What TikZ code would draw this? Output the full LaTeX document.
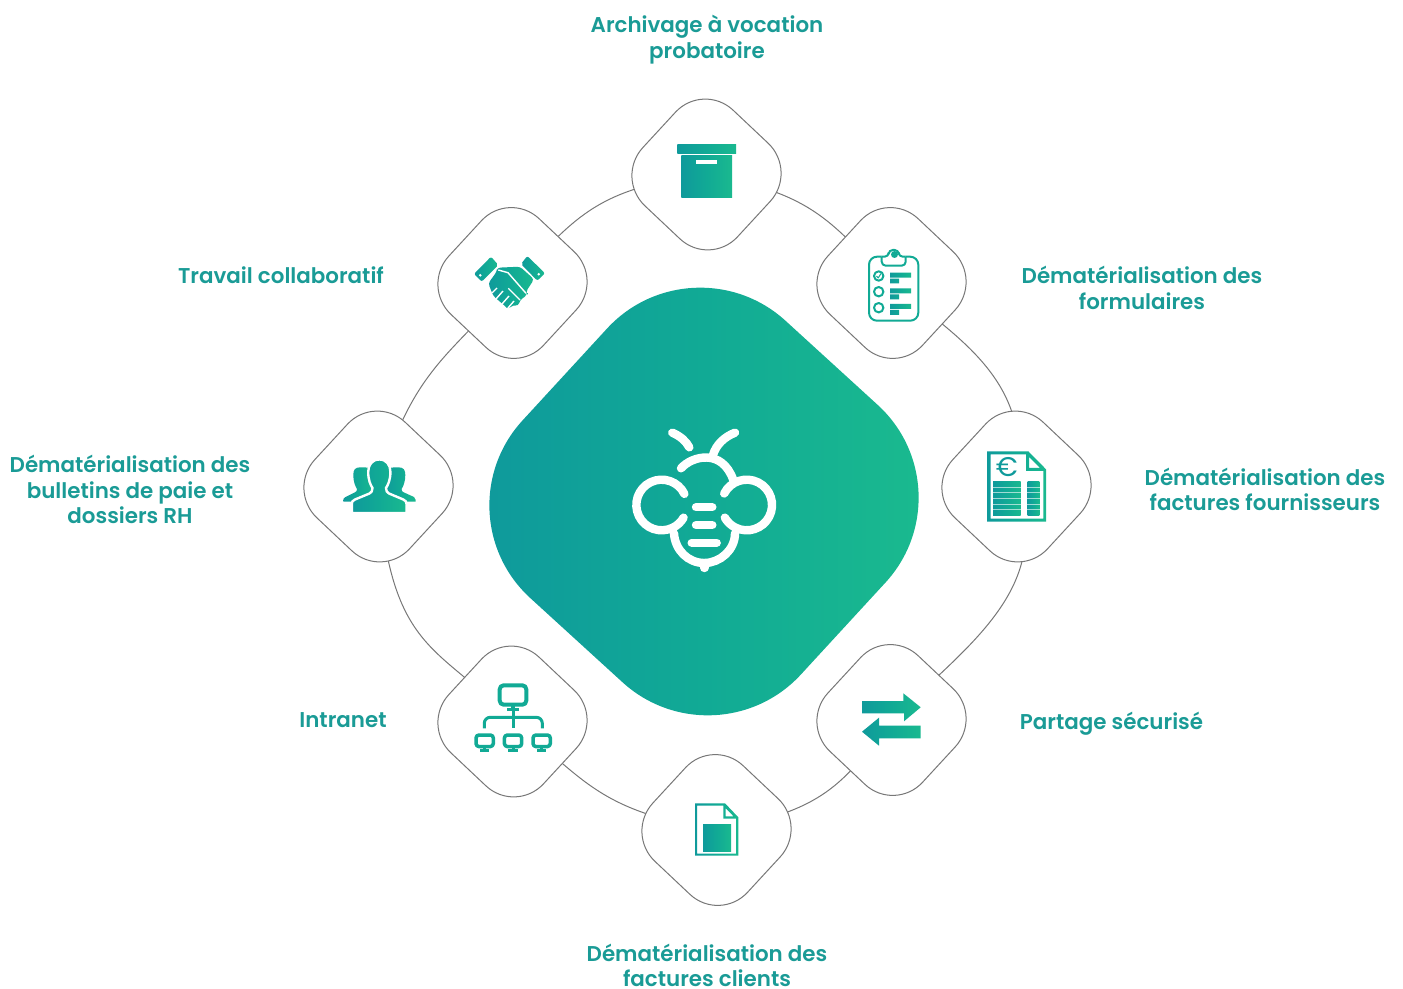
\documentclass[tikz,border=0pt]{standalone}
\usepackage{fontspec}
\newfontfamily\labelfont{Poppins SemiBold}
\newfontfamily\eurofont{Poppins}
\usetikzlibrary{backgrounds,shapes.geometric}
\definecolor{tealA}{HTML}{0F9A9B}
\definecolor{tealM}{HTML}{11AA95}
\definecolor{tealB}{HTML}{1AB98F}
\definecolor{blobA}{HTML}{0E969D}
\definecolor{blobB}{HTML}{1CBD8D}
\definecolor{textteal}{HTML}{1A9B96}
\definecolor{ringgray}{HTML}{777777}
\tikzset{
	gradfill/.style={left color=tealA, right color=tealB, middle color=tealM, draw=none},
	petal/.style={shape=diamond, draw=ringgray, line width=0.5pt, fill=white, rounded corners=20.5pt, minimum width=91.5pt, minimum height=92.5pt, inner sep=0pt, outer sep=0pt, rotate=2},
	blob/.style={shape=diamond, left color=blobA, right color=blobB, middle color=tealM, rounded corners=63pt, minimum width=267pt, minimum height=266pt, inner sep=0pt, outer sep=0pt, rotate=2.5},
	caption/.style={font=\labelfont\fontsize{10.7}{12.8}\selectfont, text=textteal, align=center, inner sep=0pt},
	ring/.style={draw=ringgray, line width=0.5pt},
	beeline/.style={draw=white, line width=4.2pt, line cap=round},
	iconline/.style={draw=tealM, line width=1pt, line join=round}
}
\begin{document}
\begin{tikzpicture}[x=0.5pt, y=-0.5pt]
	\useasboundingbox (0, 0) rectangle (1403, 989);

	% centre
	\node[blob] (centre) at (704, 501.5) {};

	% petals
	\node[petal] (archive) at (706.5, 174.5) {};
	\node[petal] (formulaires) at (891.5, 283) {};
	\node[petal] (fournisseurs) at (1016.5, 486.5) {};
	\node[petal] (partage) at (891.5, 720) {};
	\node[petal] (clients) at (716.5, 830) {};
	\node[petal] (intranet) at (512.5, 721.5) {};
	\node[petal] (paie) at (378.5, 486.5) {};
	\node[petal] (travail) at (512.5, 283) {};

	% ring behind the petals
	\begin{scope}[on background layer]
		\draw[ring] (archive.center) to[out=187, in=45, out looseness=1.35] (travail.center);
		\draw[ring] (travail.center) to[out=230, in=74, in looseness=1.3] (paie.center);
		\draw[ring] (paie.center) to[out=274, in=133, out looseness=1.6] (intranet.center);
		\draw[ring] (intranet.center) to[out=-38, in=171, in looseness=1.35] (clients.center);
		\draw[ring] (clients.center) to[out=10, in=233, out looseness=1.35] (partage.center);
		\draw[ring] (partage.center) .. controls (961.5, 650) and (1055, 590) .. (fournisseurs.center);
		\draw[ring] (fournisseurs.center) .. controls (1034, 379) and (956.5, 338) .. (formulaires.center);
		\draw[ring] (formulaires.center) to[out=136, in=-10, in looseness=1.35] (archive.center);
	\end{scope}

	% labels
	\node[caption] (lblarchive) at (707, 39.5) {Archivage à vocation\\probatoire};
	\node[caption] (lblformulaires) at (1142, 288) {Dématérialisation des\\formulaires};
	\node[caption] (lblfournisseurs) at (1265, 489.5) {Dématérialisation des\\factures fournisseurs};
	\node[caption] (lblpartage) at (1111.5, 724) {Partage sécurisé};
	\node[caption] (lblclients) at (707, 965.5) {Dématérialisation des\\factures clients};
	\node[caption] (lblintranet) at (343, 720.5) {Intranet};
	\node[caption] (lblpaie) at (130, 489.7) {Dématérialisation des\\bulletins de paie et\\dossiers RH};
	\node[caption] (lbltravail) at (281, 275) {Travail collaboratif};

	% bee
	\draw[beeline] (672.3, 432.7) .. controls (680, 436) and (686, 441) .. (689.3, 447.3);
	\draw[beeline] (735, 432.7) .. controls (724, 437) and (716, 445) .. (713, 455);
	\draw[beeline] (681, 468.3) .. controls (692, 456) and (722, 448) .. (733.3, 480);
	\draw[beeline] (684.4, 493.9) arc[start angle=-26, end angle=-330, radius=25.3];
	\draw[beeline] (724.2, 493.5) arc[start angle=-153, end angle=150, radius=25.3];
	\draw[beeline] (674, 533.3) .. controls (675, 550) and (688, 563) .. (704.3, 563) .. controls (720, 563) and (735, 550) .. (735, 533.3);
	\draw[beeline] (704.3, 563) -- (704.3, 568);
	\draw[beeline] (696, 507.3) -- (712.3, 507.3);
	\draw[beeline] (696, 525) -- (712.3, 525);
	\draw[beeline] (691.7, 542.7) -- (716.7, 542.7);

	% box
	\path[gradfill] (677.3, 144.3) rectangle (736, 154);
	\path[gradfill] (681.3, 155.7) rectangle (732, 197.7);
	\fill[white] (696, 160) rectangle (717.3, 164);

	% clipboard
	\draw[iconline, rounded corners=4pt] (881.7, 256.7) -- (869, 256.7) -- (869, 320.7) -- (918.3, 320.7) -- (918.3, 256.7) -- (905.7, 256.7);
	\draw[iconline, rounded corners=2pt] (881.7, 256.7) -- (881.7, 265.7) -- (905.7, 265.7) -- (905.7, 256.7);
	\draw[iconline, rounded corners=2pt] (881.7, 256.7) -- (888.7, 256.7) -- (888.7, 250) -- (898.7, 250) -- (898.7, 256.7) -- (905.7, 256.7);
	\fill[tealM] (894.5, 254.5) circle[radius=3.5];
	\foreach \rowy in {276, 291.7, 307.7}
		\draw[iconline] (878.7, \rowy) circle[radius=4.7];
	\draw[iconline, line width=0.5pt] (876.5, 276) -- (878.2, 278) -- (881, 273.5);
	\path[gradfill] (890, 272.7) rectangle (911, 277.7) (890, 278.7) rectangle (899, 283.3) (890, 288.3) rectangle (911, 293.3) (890, 294.3) rectangle (899, 299.3) (890, 304) rectangle (911, 309) (890, 310) rectangle (899, 315);

	% invoice
	\path[gradfill, even odd rule] (987, 451.3) -- (1028.3, 451.3) -- (1046, 469.3) -- (1046, 521.7) -- (987, 521.7) -- cycle (990.7, 454.5) -- (1026, 454.5) -- (1026, 471) -- (1043.3, 471) -- (1043.3, 518.5) -- (990.7, 518.5) -- cycle (1029, 457) -- (1029, 468) -- (1040, 468) -- cycle;
	\node[font=\eurofont\fontsize{13.5}{13.5}\selectfont, text=tealA, inner sep=0pt] (euro) at (1006.7, 467.5) {€};
	\path[gradfill] (993, 481.7) rectangle (1020.7, 515);
	\path[gradfill] (1027.7, 481.7) rectangle (1039.3, 515);
	\foreach \rowy in {487.2, 492.7, 498.3, 503.9, 509.4}
		\draw[white, opacity=0.6, line width=0.3pt] (992, \rowy) -- (1041, \rowy);

	% arrows
	\path[gradfill] (862, 701) -- (903.3, 701) -- (903.3, 693.3) -- (920.7, 707.3) -- (904, 721.3) -- (904, 713.3) -- (862, 713.3) -- cycle;
	\path[gradfill] (920.7, 725.7) -- (879, 725.7) -- (879, 717.7) -- (862, 731.7) -- (879, 745.7) -- (879, 738.3) -- (920.7, 738.3) -- cycle;

	% document
	\path[gradfill, even odd rule] (695, 803.3) -- (725, 803.3) -- (738.3, 817.3) -- (738.3, 855.7) -- (695, 855.7) -- cycle (697.2, 805.5) -- (723.3, 805.5) -- (723.3, 818.5) -- (736.2, 818.5) -- (736.2, 853.5) -- (697.2, 853.5) -- cycle (725.5, 808) -- (725.5, 816.3) -- (733.5, 816.3) -- cycle;
	\path[gradfill] (703, 824) rectangle (731, 851.5);

	% network
	\draw[iconline, line width=2pt, rounded corners=2pt] (499.7, 685.3) rectangle (526.3, 704.7);
	\draw[iconline, line width=2pt] (513, 705) -- (513, 709);
	\draw[iconline, line width=1.2pt] (507.3, 709.5) -- (519.3, 709.5);
	\draw[iconline, line width=1.5pt] (513, 710) -- (513, 728.3);
	\draw[iconline, line width=1.5pt, rounded corners=3pt] (484.3, 728.3) -- (484.3, 717.3) -- (542.3, 717.3) -- (542.3, 728.3);
	\foreach \monx in {476, 504.4, 533} {
		\draw[iconline, line width=1.75pt, rounded corners=1.5pt] (\monx, 735) rectangle ++(17.3, 11.6);
		\draw[iconline, line width=1.2pt] (\monx+4, 750.5) -- ++(9.3, 0);
		\draw[iconline, line width=1.5pt] (\monx+8.6, 747) -- ++(0, 3);
	}

	% people
	\path[gradfill] (360.3, 467.3) .. controls (355, 467.3) and (353.3, 470) .. (353.3, 475) .. controls (353.3, 481) and (355, 486) .. (357, 489) .. controls (357, 491) and (356.5, 491.5) .. (355, 492.3) -- (345.5, 497) .. controls (344, 497.8) and (343.3, 498.8) .. (343.3, 500) -- (343.3, 501.7) -- (375, 501.7) -- (375, 470) .. controls (370, 467.3) and (365, 467.3) .. (360.3, 467.3) -- cycle;
	\path[gradfill] (398.3, 467.3) .. controls (403.6, 467.3) and (405.3, 470) .. (405.3, 475) .. controls (405.3, 481) and (403.6, 486) .. (401.6, 489) .. controls (401.6, 491) and (402.1, 491.5) .. (403.6, 492.3) -- (414, 497) .. controls (415, 497.8) and (415.7, 498.8) .. (415.7, 500) -- (415.7, 501.7) -- (384, 501.7) -- (384, 470) .. controls (389, 467.3) and (394, 467.3) .. (398.3, 467.3) -- cycle;
	\path[gradfill, draw=white, line width=1.2pt] (379.3, 459.5) .. controls (372, 459.5) and (368.2, 465) .. (368.2, 472) .. controls (368.2, 480) and (370.5, 485) .. (372.5, 488) .. controls (372.5, 491) and (371.5, 492.5) .. (369.5, 493.5) -- (355, 499.5) .. controls (352.5, 500.5) and (351.8, 502) .. (351.8, 504) -- (351.8, 513.2) -- (406.5, 513.2) -- (406.5, 504) .. controls (406.5, 502) and (405.8, 500.5) .. (403.3, 499.5) -- (389, 493.5) .. controls (387, 492.5) and (386, 491) .. (386, 488) .. controls (388, 485) and (390.4, 480) .. (390.4, 472) .. controls (390.4, 465) and (386.6, 459.5) .. (379.3, 459.5) -- cycle;

	% handshake
	\path[gradfill, rounded corners=1pt] (474, 274) -- (491, 256.7) -- (498.3, 265) -- (481.7, 281.7) -- cycle;
	\path[gradfill, rounded corners=1pt] (527.3, 256) -- (545, 273.3) -- (537.3, 280.7) -- (521, 264) -- cycle;
	\fill[white] (480.3, 275.3) circle[radius=1.4];
	\fill[white] (538.7, 274.3) circle[radius=1.4];
	\path[gradfill, rounded corners=1.5pt] (497.3, 267.7) -- (520, 266.7) -- (534, 279.3) -- (526, 291.7) -- (527.3, 295) -- (520, 300) -- (518.3, 306) -- (512.7, 305) -- (508.3, 309.3) -- (505, 306) -- (493.3, 296) -- (488.3, 283.3) -- (496.7, 271.7) -- cycle;
	\draw[white, line width=0.7pt] (498.3, 270) -- (508, 272.7) -- (526, 293.3);
	\draw[white, line width=0.7pt] (508.3, 288.3) -- (520, 300);
	\draw[white, line width=0.7pt] (497, 288) -- (492, 293);
	\draw[white, line width=0.7pt] (503, 291) -- (496, 299);
	\draw[white, line width=0.7pt] (509, 296) -- (502, 304);
	\draw[white, line width=0.7pt] (514, 301) -- (508, 308);
\end{tikzpicture}
\end{document}
